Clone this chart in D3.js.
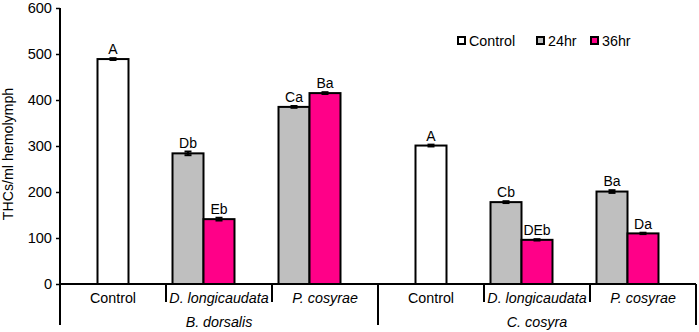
<!DOCTYPE html>
<html>
<head>
<meta charset="utf-8">
<script src="https://cdn.jsdelivr.net/npm/d3@7"></script>
<style>
  body { margin: 0; background: #fff; }
  text { font-family: "Liberation Sans", Arial, sans-serif; fill: #000; }
</style>
</head>
<body>
<div id="chart"></div>
<script>
// data
const groups = ['B. dorsalis', 'C. cosyra'];
const treatments = ['Control', 'D. longicaudata', 'P. cosyrae'];
const seriesNames = ['Control', '24hr', '36hr'];

const controlValues = [489, null, null, 301, null, null];
const h24Values = [null, 284, 385, null, 178, 201];
const h36Values = [null, 141, 415, null, 96, 110];

const controlErr = [2, null, null, 2, null, null];
const h24Err = [null, 4, 2, null, 2, 3];
const h36Err = [null, 3, 2, null, 1.5, 1.5];

const controlLetters = ['A', null, null, 'A', null, null];
const h24Letters = [null, 'Db', 'Ca', null, 'Cb', 'Ba'];
const h36Letters = [null, 'Eb', 'Ba', null, 'DEb', 'Da'];

const yTicks = [0, 100, 200, 300, 400, 500, 600];

//// dimensions
const width = 699, height = 332;
const margin = { top: 8, right: 3, bottom: 48, left: 60 };
const plotBottom = height - margin.bottom;

const svg = d3.select('#chart').append('svg')
  .attr('width', width)
  .attr('height', height);

// category keys: one per group x treatment
const cats = [];
groups.forEach(g => treatments.forEach(t => cats.push({ group: g, treatment: t, key: g + '|' + t })));

const x = d3.scaleBand()
  .domain(cats.map(d => d.key))
  .range([margin.left, width - margin.right]);

// three slots inside each category
const slot = d3.scaleBand()
  .domain([0, 1, 2])
  .range([0, x.bandwidth()])
  .paddingOuter(0.21);

const y = d3.scaleLinear()
  .domain([0, 600])
  .range([plotBottom, margin.top]);

const colors = { 'Control': '#ffffff', '24hr': '#bfbfbf', '36hr': '#ff0088' };
const slotOf = { 'Control': 1, '24hr': 0, '36hr': 1 };

// flatten into bar records
const series = [
  { name: 'Control', values: controlValues, err: controlErr, letters: controlLetters },
  { name: '24hr', values: h24Values, err: h24Err, letters: h24Letters },
  { name: '36hr', values: h36Values, err: h36Err, letters: h36Letters },
];
const bars = [];
series.forEach(s => {
  s.values.forEach((v, i) => {
    if (v == null) return;
    bars.push({ series: s.name, cat: cats[i].key, value: v, err: s.err[i], letter: s.letters[i] });
  });
});

//// y axis
const yAxis = svg.append('g')
  .attr('transform', `translate(${margin.left},0)`)
  .call(d3.axisLeft(y).tickValues(yTicks).tickSize(4).tickPadding(4));
yAxis.select('.domain').remove();
yAxis.selectAll('.tick line').attr('stroke', '#000').attr('stroke-width', 1.5);
yAxis.selectAll('.tick text').style('font-size', '14.6px');

svg.append('line')
  .attr('x1', margin.left).attr('x2', margin.left)
  .attr('y1', margin.top).attr('y2', height - 7)
  .attr('stroke', '#000').attr('stroke-width', 2);

svg.append('text')
  .attr('transform', `translate(13,${(margin.top + plotBottom) / 2 + 8}) rotate(-90)`)
  .attr('text-anchor', 'middle')
  .style('font-size', '14.2px')
  .text('THCs/ml hemolymph');

//// bars
const barG = svg.append('g');
barG.selectAll('rect')
  .data(bars)
  .join('rect')
  .attr('x', d => x(d.cat) + slot(slotOf[d.series]))
  .attr('y', d => y(d.value))
  .attr('width', slot.bandwidth())
  .attr('height', d => y(0) - y(d.value))
  .attr('fill', d => colors[d.series])
  .attr('stroke', '#000')
  .attr('stroke-width', 2);

// error bars
const cx = d => x(d.cat) + slot(slotOf[d.series]) + slot.bandwidth() / 2;
const errG = barG.append('g').attr('stroke', '#000').attr('stroke-width', 2);
errG.selectAll('line.stem')
  .data(bars)
  .join('line')
  .attr('class', 'stem')
  .attr('x1', cx).attr('x2', cx)
  .attr('y1', d => y(d.value - d.err)).attr('y2', d => y(d.value + d.err));
errG.selectAll('line.cap')
  .data(bars.flatMap(d => [{ d, v: d.value + d.err }, { d, v: d.value - d.err }]))
  .join('line')
  .attr('class', 'cap')
  .attr('x1', e => cx(e.d) - 3.5).attr('x2', e => cx(e.d) + 3.5)
  .attr('y1', e => y(e.v)).attr('y2', e => y(e.v));

// letters
barG.selectAll('text')
  .data(bars)
  .join('text')
  .attr('x', cx)
  .attr('y', d => y(d.value + d.err) - 4)
  .attr('text-anchor', 'middle')
  .style('font-size', '14px')
  .text(d => d.letter);

//// x axis (two-level)
const xAxis = svg.append('g');
xAxis.append('line')
  .attr('x1', margin.left).attr('x2', width - margin.right)
  .attr('y1', y(0)).attr('y2', y(0))
  .attr('stroke', '#000').attr('stroke-width', 2);

// separators between treatments
xAxis.selectAll('line.sep')
  .data(cats.filter((d, i) => i % treatments.length !== 0))
  .join('line')
  .attr('class', 'sep')
  .attr('x1', d => x(d.key)).attr('x2', d => x(d.key))
  .attr('y1', y(0)).attr('y2', y(0) + 18)
  .attr('stroke', '#000').attr('stroke-width', 2);

// separators between groups
const groupEdges = groups.map((g, i) => x(cats[i * treatments.length].key)).slice(1)
  .concat([width - margin.right]);
xAxis.selectAll('line.gsep')
  .data(groupEdges)
  .join('line')
  .attr('class', 'gsep')
  .attr('x1', d => d).attr('x2', d => d)
  .attr('y1', y(0)).attr('y2', height - 7)
  .attr('stroke', '#000').attr('stroke-width', 2);

xAxis.selectAll('text.cat')
  .data(cats)
  .join('text')
  .attr('class', 'cat')
  .attr('x', d => x(d.key) + x.bandwidth() / 2)
  .attr('y', y(0) + 19)
  .attr('text-anchor', 'middle')
  .style('font-size', '14.3px')
  .style('font-style', d => d.treatment === 'Control' ? 'normal' : 'italic')
  .text(d => d.treatment);

xAxis.selectAll('text.grp')
  .data(groups)
  .join('text')
  .attr('class', 'grp')
  .attr('x', (g, i) => x(cats[i * treatments.length + 1].key) + x.bandwidth() / 2)
  .attr('y', height - 5)
  .attr('text-anchor', 'middle')
  .style('font-size', '14.3px')
  .style('font-style', 'italic')
  .text(g => g);

//// legend
const legendX = [458, 537, 591];
const legend = svg.append('g');
const entries = legend.selectAll('g')
  .data(seriesNames)
  .join('g')
  .attr('transform', (d, i) => `translate(${legendX[i]},37)`);
entries.append('rect')
  .attr('width', 7).attr('height', 7)
  .attr('fill', d => colors[d])
  .attr('stroke', '#000')
  .attr('stroke-width', 2);
entries.append('text')
  .attr('x', 11)
  .attr('y', 9)
  .style('font-size', '14.3px')
  .text(d => d);
</script>
</body>
</html>
